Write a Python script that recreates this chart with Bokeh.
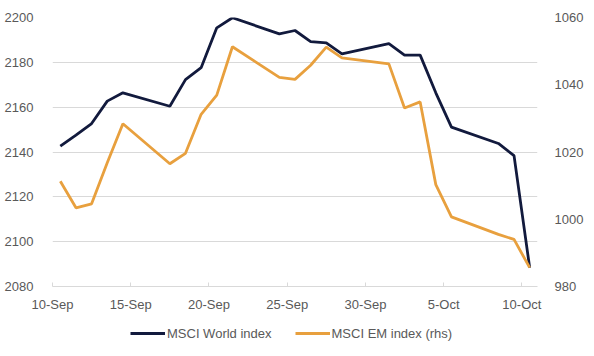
import pandas as pd
from bokeh.plotting import figure
from bokeh.layouts import column
from bokeh.models import (Range1d, LinearAxis, FixedTicker, DatetimeTickFormatter,
                          Legend, LegendItem, ColumnDataSource)
from bokeh.embed import file_html
from bokeh.resources import INLINE

dates = ["2018-09-10", "2018-09-11", "2018-09-12", "2018-09-13", "2018-09-14",
         "2018-09-17", "2018-09-18", "2018-09-19", "2018-09-20", "2018-09-21",
         "2018-09-24", "2018-09-25", "2018-09-26", "2018-09-27", "2018-09-28",
         "2018-10-01", "2018-10-02", "2018-10-03", "2018-10-04", "2018-10-05",
         "2018-10-08", "2018-10-09", "2018-10-10"]
msci_world = [2142.6, 2147.5, 2152.7, 2162.7, 2166.4,
              2160.4, 2172.3, 2177.6, 2195.4, 2199.9,
              2192.7, 2194.2, 2189.2, 2188.7, 2183.8,
              2188.3, 2183.2, 2183.2, 2166.4, 2151.1,
              2143.8, 2138.4, 2088.4]
msci_em = [1011.3, 1003.4, 1004.6, 1016.8, 1028.4,
           1016.5, 1019.6, 1031.2, 1036.9, 1051.3,
           1042.2, 1041.6, 1045.8, 1051.2, 1048.0,
           1046.2, 1033.1, 1034.9, 1010.3, 1000.7,
           995.5, 994.0, 985.6]
tick_dates = ["2018-09-10", "2018-09-15", "2018-09-20", "2018-09-25",
              "2018-09-30", "2018-10-05", "2018-10-10"]
left_ticks = [2080, 2100, 2120, 2140, 2160, 2180, 2200]
right_ticks = [980, 1000, 1020, 1040, 1060]
series_names = ["MSCI World index", "MSCI EM index (rhs)"]

NAVY = "#121A3D"
ORANGE = "#E8A03E"
GRAY_TXT = "#595959"
GRID = "#D9D9D9"
FONT = "Liberation Sans"

# Excel date axis places points in the middle of each day
x = pd.to_datetime(dates) + pd.Timedelta(hours=12)
src = ColumnDataSource(dict(x=x, world=msci_world, em=msci_em))

x_start = pd.Timestamp("2018-09-10")
x_end = pd.Timestamp("2018-10-11")

p = figure(width=586, height=315, output_backend="svg", toolbar_location=None,
           x_axis_type="datetime",
           x_range=Range1d(x_start, x_end),
           y_range=Range1d(2080, 2200),
           min_border_left=52, min_border_right=44, min_border_top=17,
           min_border_bottom=29)
p.outline_line_color = None
p.background_fill_color = "white"
p.border_fill_color = "white"

p.extra_y_ranges = {"em": Range1d(980, 1060)}

r1 = p.line("x", "world", source=src, line_color=NAVY, line_width=2.8)
r2 = p.line("x", "em", source=src, line_color=ORANGE, line_width=2.8,
            y_range_name="em")

# x axis
xa = p.xaxis[0]
xa.ticker = FixedTicker(ticks=[pd.Timestamp(d).value / 1e6 for d in tick_dates])
xa.formatter = DatetimeTickFormatter(days="%-d-%b", months="%-d-%b", hours="%-d-%b")
xa.axis_line_color = GRID
xa.major_tick_line_color = GRID
xa.major_tick_in = 4
xa.major_tick_out = 0
xa.minor_tick_line_color = None
xa.major_label_text_font = FONT
xa.major_label_text_font_size = "13px"
xa.major_label_text_color = GRAY_TXT
xa.major_label_standoff = 10

# left axis
ya = p.yaxis[0]
ya.ticker = FixedTicker(ticks=left_ticks)
ya.axis_line_color = None
ya.major_tick_line_color = None
ya.minor_tick_line_color = None
ya.major_label_text_font = FONT
ya.major_label_text_font_size = "13px"
ya.major_label_text_color = GRAY_TXT
ya.major_label_standoff = 13

# right axis
ra = LinearAxis(y_range_name="em", ticker=FixedTicker(ticks=right_ticks))
ra.axis_line_color = None
ra.major_tick_line_color = None
ra.minor_tick_line_color = None
ra.major_label_text_font = FONT
ra.major_label_text_font_size = "13px"
ra.major_label_text_color = GRAY_TXT
ra.major_label_standoff = 11
p.add_layout(ra, "right")

p.xgrid.grid_line_color = None
p.ygrid.grid_line_color = GRID
p.ygrid.ticker = FixedTicker(ticks=left_ticks)

# legend strip below the chart
lf = figure(width=586, height=33, output_backend="svg", toolbar_location=None,
            x_range=Range1d(0, 1), y_range=Range1d(0, 1),
            min_border=0,
            x_axis_location=None, y_axis_location=None)
lf.outline_line_color = None
lf.grid.visible = False
lr1 = lf.line([-5, -4], [-5, -4], line_color=NAVY, line_width=2.8)
lr2 = lf.line([-5, -4], [-5, -4], line_color=ORANGE, line_width=2.8)

legend = Legend(items=[LegendItem(label=series_names[0], renderers=[lr1]),
                       LegendItem(label=series_names[1], renderers=[lr2])],
                orientation="horizontal", location=(78, 7),
                border_line_color=None, background_fill_alpha=0,
                padding=4, margin=0, spacing=23,
                glyph_width=35, glyph_height=16, label_height=16,
                label_standoff=2,
                label_text_font=FONT, label_text_font_size="13px",
                label_text_color=GRAY_TXT)
lf.add_layout(legend, "center")

layout = column(p, lf, spacing=0)
open("out.html", "w").write(file_html(layout, INLINE))
